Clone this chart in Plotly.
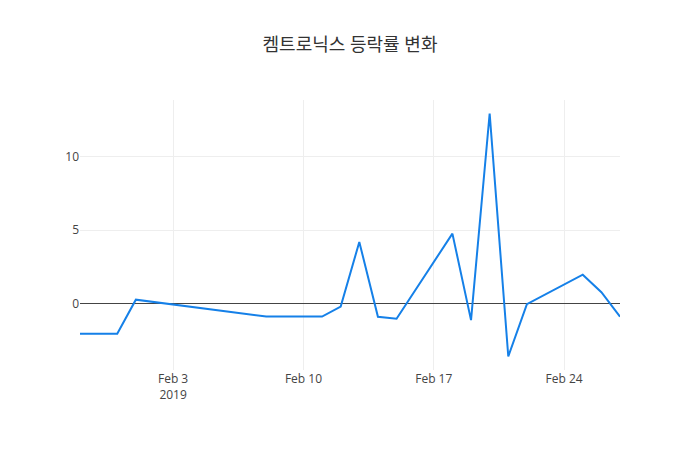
import plotly.graph_objs as go

# 켐트로닉스 일별 등락률 (%)
dates = ['2019-01-29', '2019-01-30', '2019-01-31', '2019-02-01',
         '2019-02-08', '2019-02-11', '2019-02-12', '2019-02-13',
         '2019-02-14', '2019-02-15', '2019-02-18', '2019-02-19',
         '2019-02-20', '2019-02-21', '2019-02-22', '2019-02-25',
         '2019-02-26', '2019-02-27']
rates = [-2.05, -2.05, -2.05, 0.27,
         -0.88, -0.88, -0.2, 4.2,
         -0.89, -1.03, 4.77, -1.12,
         12.95, -3.6, -0.03, 1.97,
         0.78, -0.89]

fig = go.Figure()
fig.add_trace(go.Scatter(x=dates, y=rates, mode='lines',
                         line=dict(color='#1580e8', width=2)))
# page body has an 8px margin, so the margins are shifted to compensate
fig.update_layout(
    template='none',
    title=dict(text='켐트로닉스 등락률 변화', x=342 / 700, xanchor='center',
               y=1 - 37 / 450, yanchor='middle',
               font=dict(size=18, color='#333')),
    font=dict(family='Open Sans, Noto Sans CJK KR, sans-serif', color='#444'),
    width=700, height=450,
    margin=dict(l=72, r=88, t=92, b=88),
    paper_bgcolor='white', plot_bgcolor='white',
    xaxis=dict(gridcolor='#eee'),
    yaxis=dict(gridcolor='#eee', zerolinecolor='#444', zerolinewidth=1),
    showlegend=False,
)
fig.write_html('out.html')
